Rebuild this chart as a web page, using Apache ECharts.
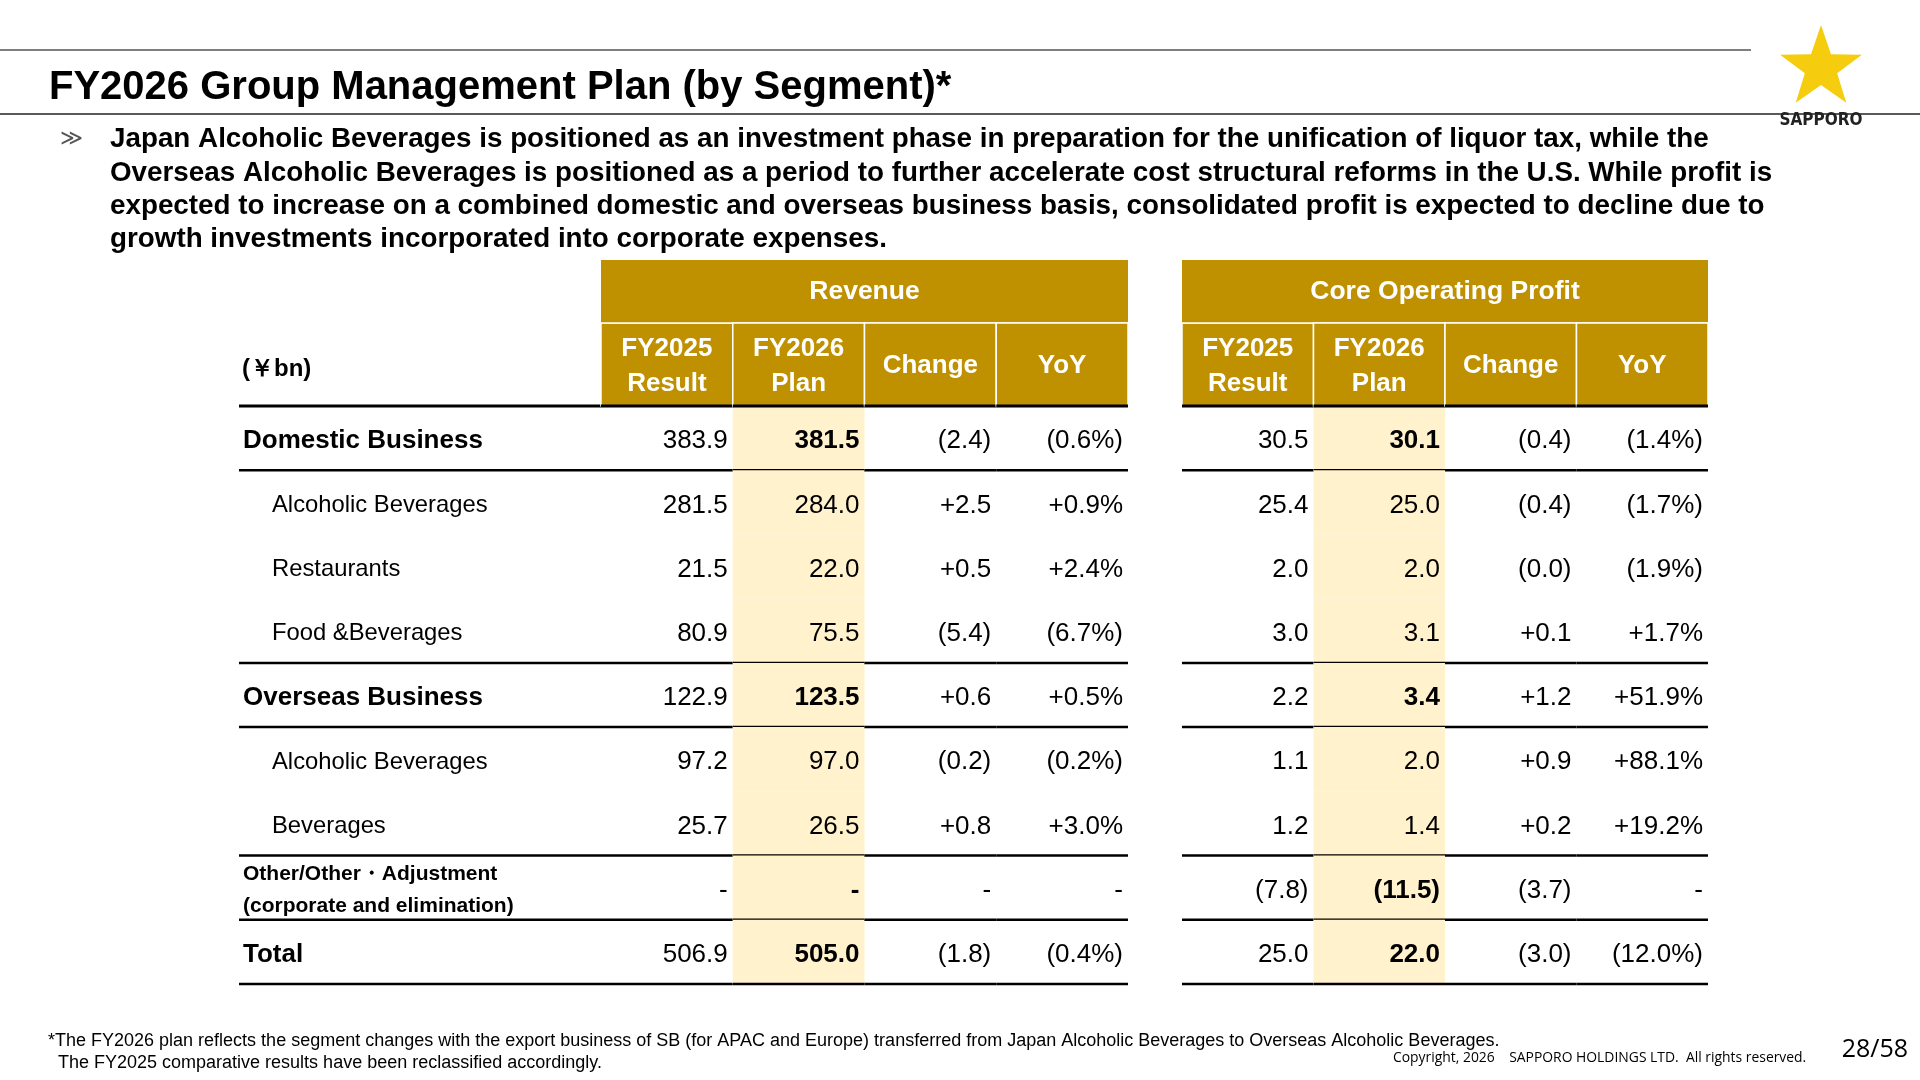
<!DOCTYPE html><html><head><meta charset="utf-8">
<script src="https://cdn.jsdelivr.net/npm/echarts@6/dist/echarts.min.js"></script>
<style>html,body{margin:0;padding:0;background:#fff}#c{width:1920px;height:1080px}</style></head><body><div id="c"></div>
<script>
const rowLabels = ['Domestic Business','Alcoholic Beverages','Restaurants','Food &Beverages','Overseas Business','Alcoholic Beverages','Beverages','Other/Other・Adjustment\n(corporate and elimination)','Total'];
const rowLevel = [0,1,1,1,0,1,1,2,0];
const lineAfter = [1,0,0,1,1,0,1,1,1];
const colHeaders = ['FY2025\nResult','FY2026\nPlan','Change','YoY'];
const revFY25 = ['383.9','281.5','21.5','80.9','122.9','97.2','25.7','-','506.9'];
const revFY26 = ['381.5','284.0','22.0','75.5','123.5','97.0','26.5','-','505.0'];
const revChange = ['(2.4)','+2.5','+0.5','(5.4)','+0.6','(0.2)','+0.8','-','(1.8)'];
const revYoY = ['(0.6%)','+0.9%','+2.4%','(6.7%)','+0.5%','(0.2%)','+3.0%','-','(0.4%)'];
const copFY25 = ['30.5','25.4','2.0','3.0','2.2','1.1','1.2','(7.8)','25.0'];
const copFY26 = ['30.1','25.0','2.0','3.1','3.4','2.0','1.4','(11.5)','22.0'];
const copChange = ['(0.4)','(0.4)','(0.0)','+0.1','+1.2','+0.9','+0.2','(3.7)','(3.0)'];
const copYoY = ['(1.4%)','(1.7%)','(1.9%)','+1.7%','+51.9%','+88.1%','+19.2%','-','(12.0%)'];

const GOLD='#BF9000', CREAM='#FFF2CC', FONT='"Liberation Sans", Arial, sans-serif';
const rowIdx = rowLabels.map((_,i)=>i);
const TY=3;

function block(gi, cols, title){
  const data=[]; cols.forEach((arr,c)=>arr.forEach((t,r)=>data.push([c,r,t])));
  return {type:'custom', xAxisIndex:gi, yAxisIndex:gi, data, silent:true,
    renderItem(params, api){
      const c=api.value(0), r=api.value(1), t=data[params.dataIndex][2];
      const p=api.coord([c,r]), s=api.size([1,1]);
      const x0=p[0]-s[0]/2, y0=p[1]-s[1]/2, w=s[0], h=s[1];
      const ch=[];
      if(c===1) ch.push({type:'rect',shape:{x:x0,y:y0,width:w,height:h},style:{fill:CREAM}});
      const bold = (c===1 && rowLevel[r]!==1);
      ch.push({type:'text',style:{text:t,x:x0+w-5,y:p[1]+TY,align:'right',verticalAlign:'middle',font:(bold?'bold ':'')+'26px '+FONT,fill:'#000'}});
      if(lineAfter[r]) ch.push({type:'line',shape:{x1:x0,y1:y0+h,x2:x0+w,y2:y0+h},style:{stroke:'#000',lineWidth:2.5}});
      if(r===0){
        ch.push({type:'rect',shape:{x:x0,y:y0-83,width:w,height:83},style:{fill:GOLD,stroke:'#fff',lineWidth:1.5}});
        ch.push({type:'text',style:{text:colHeaders[c],x:p[0],y:y0-40,align:'center',verticalAlign:'middle',font:'bold 26px '+FONT,fill:'#fff',lineHeight:35}});
        ch.push({type:'line',shape:{x1:x0,y1:y0,x2:x0+w,y2:y0},style:{stroke:'#000',lineWidth:3}});
        if(c===0){
          ch.push({type:'rect',shape:{x:x0,y:y0-146,width:w*4,height:63},style:{fill:GOLD}});
          ch.push({type:'line',shape:{x1:x0,y1:y0-83,x2:x0+w*4,y2:y0-83},style:{stroke:'#fff',lineWidth:1.5}});
          ch.push({type:'text',style:{text:title,x:x0+w*2,y:y0-114,align:'center',verticalAlign:'middle',font:'bold 26.5px '+FONT,fill:'#fff'}});
        }
      }
      return {type:'group',children:ch};
    }};
}

const labelSeries = {type:'custom', xAxisIndex:0, yAxisIndex:0, silent:true,
  data: rowLabels.map((l,i)=>[0,i]),
  renderItem(params, api){
    const r=api.value(1); const p=api.coord([0,r]), s=api.size([1,1]);
    const x0=p[0]-s[0]/2, y0=p[1]-s[1]/2, w=s[0], h=s[1];
    const lv=rowLevel[r]; const ch=[];
    const font = lv===0?'bold 26px ':lv===1?'23.8px ':'bold 21px ';
    ch.push({type:'text',style:{text:rowLabels[r],x:x0+(lv===1?33:4),y:p[1]+TY,align:'left',verticalAlign:'middle',font:font+FONT,fill:'#000',lineHeight:32}});
    if(lineAfter[r]) ch.push({type:'line',shape:{x1:x0,y1:y0+h,x2:x0+w,y2:y0+h},style:{stroke:'#000',lineWidth:2.5}});
    if(r===0){
      ch.push({type:'line',shape:{x1:x0,y1:y0,x2:x0+w,y2:y0},style:{stroke:'#000',lineWidth:3}});
      ch.push({type:'text',style:{text:'(￥bn)',x:x0+3,y:y0-37,align:'left',verticalAlign:'middle',font:'bold 24px '+FONT,fill:'#000'}});
    }
    return {type:'group',children:ch};
  }};

function starPoints(cx,cy,R,r0){const pts=[];for(let i=0;i<10;i++){const a=-Math.PI/2+i*Math.PI/5;const rr=i%2?r0:R;pts.push([cx+rr*Math.cos(a),cy+rr*Math.sin(a)]);}return pts;}

const gTop=406, gBottom=1080-984;
const grids=[{left:239,width:362,top:gTop,bottom:gBottom},{left:601,width:527,top:gTop,bottom:gBottom},{left:1182,width:526,top:gTop,bottom:gBottom}];
const ax=(n,i)=>({type:'category',gridIndex:i,data:n,show:false});
const chart=echarts.init(document.getElementById('c'));
chart.setOption({
  animation:false,
  grid:grids,
  xAxis:[ax(['label'],0),ax(colHeaders,1),ax(colHeaders,2)],
  yAxis:[0,1,2].map(i=>Object.assign(ax(rowIdx,i),{inverse:true})),
  series:[labelSeries, block(1,[revFY25,revFY26,revChange,revYoY],'Revenue'), block(2,[copFY25,copFY26,copChange,copYoY],'Core Operating Profit')],
  graphic:[
    {type:'line',shape:{x1:0,y1:50,x2:1751,y2:50},style:{stroke:'#7f7f7f',lineWidth:2}},
    {type:'line',shape:{x1:0,y1:114,x2:1920,y2:114},style:{stroke:'#222',lineWidth:1.5}},
    {type:'text',style:{text:'FY2026 Group Management Plan (by Segment)*',x:49,y:88,verticalAlign:'middle',font:'bold 40px '+FONT,fill:'#000'}},
    {type:'polygon',shape:{points:starPoints(1821,68,43,17)},style:{fill:'#F5CC0E'}},
    {type:'text',style:{text:'SAPPORO',x:1821,y:121,align:'center',verticalAlign:'middle',font:'bold 17px "DejaVu Sans Condensed", sans-serif',fill:'#222'}},
    {type:'text',style:{text:'≫',x:60,y:139,verticalAlign:'middle',font:'22px '+FONT,fill:'#555'}},
    {type:'text',style:{text:'Japan Alcoholic Beverages is positioned as an investment phase in preparation for the unification of liquor tax, while the\nOverseas Alcoholic Beverages is positioned as a period to further accelerate cost structural reforms in the U.S. While profit is\nexpected to increase on a combined domestic and overseas business basis, consolidated profit is expected to decline due to\ngrowth investments incorporated into corporate expenses.',x:110,y:123,lineHeight:33.3,font:'bold 27.8px '+FONT,fill:'#000'}},
    {type:'text',style:{text:'*The FY2026 plan reflects the segment changes with the export business of SB (for APAC and Europe) transferred from Japan Alcoholic Beverages to Overseas Alcoholic Beverages.\n  The FY2025 comparative results have been reclassified accordingly.',x:48,y:1030,lineHeight:22,font:'18px '+FONT,fill:'#000'}},
    {type:'text',style:{text:'Copyright, 2026    SAPPORO HOLDINGS LTD.  All rights reserved.',x:1393,y:1058,verticalAlign:'middle',font:'13.9px "Open Sans", sans-serif',fill:'#000'}},
    {type:'text',style:{text:'28/58',x:1908,y:1050,align:'right',verticalAlign:'middle',font:'25px "Open Sans", sans-serif',fill:'#000'}}
  ]
});
</script></body></html>
